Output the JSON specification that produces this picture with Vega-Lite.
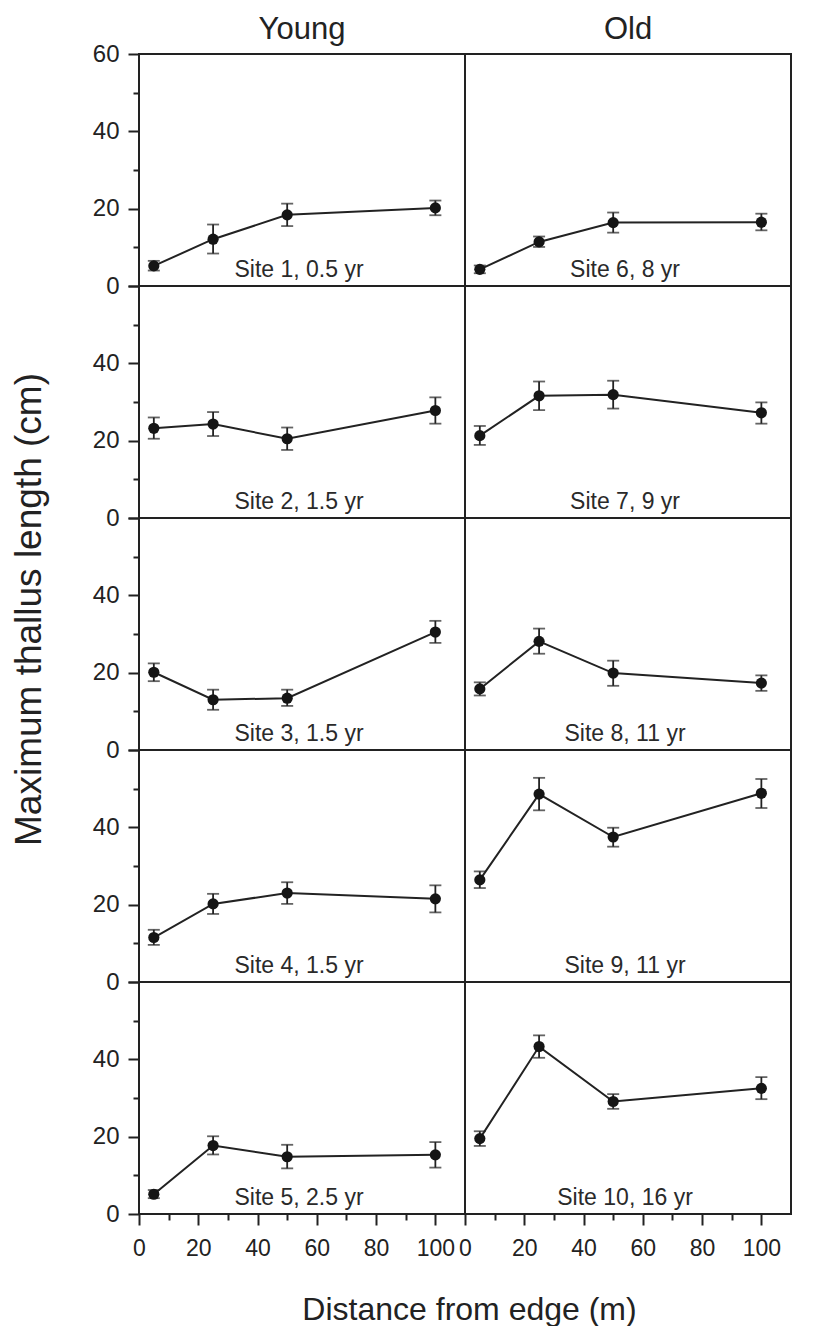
{
  "$schema": "https://vega.github.io/schema/vega-lite/v6.json",
  "background": "white",
  "padding": {"left": 9, "top": 13, "right": 30, "bottom": 0},
  "data": {
    "values": [
      {"id": 1, "grp": "Young", "site": "Site 1, 0.5 yr", "d": 5, "y": 5.2, "lo": 4.0, "hi": 6.5},
      {"id": 1, "grp": "Young", "site": "Site 1, 0.5 yr", "d": 25, "y": 12.1, "lo": 8.4, "hi": 15.9},
      {"id": 1, "grp": "Young", "site": "Site 1, 0.5 yr", "d": 50, "y": 18.4, "lo": 15.5, "hi": 21.3},
      {"id": 1, "grp": "Young", "site": "Site 1, 0.5 yr", "d": 100, "y": 20.2, "lo": 18.3, "hi": 22.1},
      {"id": 6, "grp": "Old", "site": "Site 6, 8 yr", "d": 5, "y": 4.3, "lo": 3.3, "hi": 5.3},
      {"id": 6, "grp": "Old", "site": "Site 6, 8 yr", "d": 25, "y": 11.4, "lo": 10.1, "hi": 12.8},
      {"id": 6, "grp": "Old", "site": "Site 6, 8 yr", "d": 50, "y": 16.4, "lo": 13.8, "hi": 19.0},
      {"id": 6, "grp": "Old", "site": "Site 6, 8 yr", "d": 100, "y": 16.5, "lo": 14.4, "hi": 18.7},
      {"id": 2, "grp": "Young", "site": "Site 2, 1.5 yr", "d": 5, "y": 23.2, "lo": 20.5, "hi": 26.0},
      {"id": 2, "grp": "Young", "site": "Site 2, 1.5 yr", "d": 25, "y": 24.3, "lo": 21.2, "hi": 27.4},
      {"id": 2, "grp": "Young", "site": "Site 2, 1.5 yr", "d": 50, "y": 20.5, "lo": 17.6, "hi": 23.4},
      {"id": 2, "grp": "Young", "site": "Site 2, 1.5 yr", "d": 100, "y": 27.8, "lo": 24.4, "hi": 31.2},
      {"id": 7, "grp": "Old", "site": "Site 7, 9 yr", "d": 5, "y": 21.3, "lo": 18.9, "hi": 23.8},
      {"id": 7, "grp": "Old", "site": "Site 7, 9 yr", "d": 25, "y": 31.6, "lo": 27.9, "hi": 35.3},
      {"id": 7, "grp": "Old", "site": "Site 7, 9 yr", "d": 50, "y": 31.9, "lo": 28.3, "hi": 35.5},
      {"id": 7, "grp": "Old", "site": "Site 7, 9 yr", "d": 100, "y": 27.2, "lo": 24.4, "hi": 29.9},
      {"id": 3, "grp": "Young", "site": "Site 3, 1.5 yr", "d": 5, "y": 20.1, "lo": 17.8, "hi": 22.4},
      {"id": 3, "grp": "Young", "site": "Site 3, 1.5 yr", "d": 25, "y": 13.0, "lo": 10.4, "hi": 15.6},
      {"id": 3, "grp": "Young", "site": "Site 3, 1.5 yr", "d": 50, "y": 13.4, "lo": 11.4, "hi": 15.6},
      {"id": 3, "grp": "Young", "site": "Site 3, 1.5 yr", "d": 100, "y": 30.5, "lo": 27.7, "hi": 33.4},
      {"id": 8, "grp": "Old", "site": "Site 8, 11 yr", "d": 5, "y": 15.8, "lo": 14.1, "hi": 17.5},
      {"id": 8, "grp": "Old", "site": "Site 8, 11 yr", "d": 25, "y": 28.1, "lo": 24.9, "hi": 31.4},
      {"id": 8, "grp": "Old", "site": "Site 8, 11 yr", "d": 50, "y": 19.9, "lo": 16.6, "hi": 23.1},
      {"id": 8, "grp": "Old", "site": "Site 8, 11 yr", "d": 100, "y": 17.3, "lo": 15.3, "hi": 19.3},
      {"id": 4, "grp": "Young", "site": "Site 4, 1.5 yr", "d": 5, "y": 11.5, "lo": 9.6, "hi": 13.5},
      {"id": 4, "grp": "Young", "site": "Site 4, 1.5 yr", "d": 25, "y": 20.2, "lo": 17.6, "hi": 22.8},
      {"id": 4, "grp": "Young", "site": "Site 4, 1.5 yr", "d": 50, "y": 23.0, "lo": 20.2, "hi": 25.8},
      {"id": 4, "grp": "Young", "site": "Site 4, 1.5 yr", "d": 100, "y": 21.5, "lo": 18.0, "hi": 25.0},
      {"id": 9, "grp": "Old", "site": "Site 9, 11 yr", "d": 5, "y": 26.4, "lo": 24.3, "hi": 28.6},
      {"id": 9, "grp": "Old", "site": "Site 9, 11 yr", "d": 25, "y": 48.6, "lo": 44.4, "hi": 52.8},
      {"id": 9, "grp": "Old", "site": "Site 9, 11 yr", "d": 50, "y": 37.5, "lo": 35.0, "hi": 39.9},
      {"id": 9, "grp": "Old", "site": "Site 9, 11 yr", "d": 100, "y": 48.8, "lo": 45.0, "hi": 52.5},
      {"id": 5, "grp": "Young", "site": "Site 5, 2.5 yr", "d": 5, "y": 5.1, "lo": 4.1, "hi": 6.2},
      {"id": 5, "grp": "Young", "site": "Site 5, 2.5 yr", "d": 25, "y": 17.7, "lo": 15.4, "hi": 20.1},
      {"id": 5, "grp": "Young", "site": "Site 5, 2.5 yr", "d": 50, "y": 14.8, "lo": 11.8, "hi": 17.9},
      {"id": 5, "grp": "Young", "site": "Site 5, 2.5 yr", "d": 100, "y": 15.3, "lo": 12.0, "hi": 18.6},
      {"id": 10, "grp": "Old", "site": "Site 10, 16 yr", "d": 5, "y": 19.5, "lo": 17.6, "hi": 21.4},
      {"id": 10, "grp": "Old", "site": "Site 10, 16 yr", "d": 25, "y": 43.3, "lo": 40.4, "hi": 46.2},
      {"id": 10, "grp": "Old", "site": "Site 10, 16 yr", "d": 50, "y": 29.1, "lo": 27.2, "hi": 31.0},
      {"id": 10, "grp": "Old", "site": "Site 10, 16 yr", "d": 100, "y": 32.5, "lo": 29.7, "hi": 35.4}
    ]
  },
  "columns": 2,
  "spacing": 0,
  "bounds": "flush",
  "concat": [
    {
      "transform": [{"filter": "datum.id == 1"}],
      "width": 326, "height": 232,
      "title": {"text": "Young", "offset": -4},
      "encoding": {
        "x": {"field": "d", "type": "quantitative", "scale": {"domain": [0, 110], "nice": false}, "axis": {"labels": false, "ticks": false, "domain": false, "title": null}},
        "y": {"field": "y", "type": "quantitative", "scale": {"domain": [0, 60], "nice": false},
          "axis": {"values": [0, 10, 20, 30, 40, 50, 60], "labelExpr": "datum.value % 20 == 0 ? datum.label : ''", "tickSize": {"condition": {"test": "datum.value % 20 == 0", "value": 11}, "value": 6}, "labelPadding": 9, "title": null}}
      },
      "layer": [
        {"mark": {"type": "line", "color": "#222", "strokeWidth": 2}},
        {"mark": {"type": "errorbar", "ticks": true, "size": 12, "thickness": 1.8, "color": "#222"}, "encoding": {"y": {"field": "lo", "type": "quantitative"}, "y2": {"field": "hi"}}},
        {"mark": {"type": "point", "filled": true, "size": 125, "opacity": 1, "color": "#151515"}},
        {"transform": [{"filter": "datum.d == 5"}], "mark": {"type": "text", "fontSize": 23, "baseline": "alphabetic", "color": "#2a2a2a"}, "encoding": {"x": {"datum": 54, "type": "quantitative"}, "y": {"datum": 2.4, "type": "quantitative"}, "text": {"field": "site"}}}
      ]
    },
    {
      "transform": [{"filter": "datum.id == 6"}],
      "width": 326, "height": 232,
      "title": {"text": "Old", "offset": 8},
      "encoding": {
        "x": {"field": "d", "type": "quantitative", "scale": {"domain": [0, 110], "nice": false}, "axis": {"labels": false, "ticks": false, "domain": false, "title": null}},
        "y": {"field": "y", "type": "quantitative", "scale": {"domain": [0, 60], "nice": false}, "axis": {"labels": false, "ticks": false, "domain": false, "title": null}}
      },
      "layer": [
        {"mark": {"type": "line", "color": "#222", "strokeWidth": 2}},
        {"mark": {"type": "errorbar", "ticks": true, "size": 12, "thickness": 1.8, "color": "#222"}, "encoding": {"y": {"field": "lo", "type": "quantitative"}, "y2": {"field": "hi"}}},
        {"mark": {"type": "point", "filled": true, "size": 125, "opacity": 1, "color": "#151515"}},
        {"transform": [{"filter": "datum.d == 5"}], "mark": {"type": "text", "fontSize": 23, "baseline": "alphabetic", "color": "#2a2a2a"}, "encoding": {"x": {"datum": 54, "type": "quantitative"}, "y": {"datum": 2.4, "type": "quantitative"}, "text": {"field": "site"}}}
      ]
    },
    {
      "transform": [{"filter": "datum.id == 2"}],
      "width": 326, "height": 232,
      "encoding": {
        "x": {"field": "d", "type": "quantitative", "scale": {"domain": [0, 110], "nice": false}, "axis": {"labels": false, "ticks": false, "domain": false, "title": null}},
        "y": {"field": "y", "type": "quantitative", "scale": {"domain": [0, 60], "nice": false},
          "axis": {"values": [0, 10, 20, 30, 40, 50, 60], "labelExpr": "datum.value % 20 == 0 && datum.value < 60 ? datum.label : ''", "tickSize": {"condition": {"test": "datum.value % 20 == 0", "value": 11}, "value": 6}, "labelPadding": 9, "title": null}}
      },
      "layer": [
        {"mark": {"type": "line", "color": "#222", "strokeWidth": 2}},
        {"mark": {"type": "errorbar", "ticks": true, "size": 12, "thickness": 1.8, "color": "#222"}, "encoding": {"y": {"field": "lo", "type": "quantitative"}, "y2": {"field": "hi"}}},
        {"mark": {"type": "point", "filled": true, "size": 125, "opacity": 1, "color": "#151515"}},
        {"transform": [{"filter": "datum.d == 5"}], "mark": {"type": "text", "fontSize": 23, "baseline": "alphabetic", "color": "#2a2a2a"}, "encoding": {"x": {"datum": 54, "type": "quantitative"}, "y": {"datum": 2.4, "type": "quantitative"}, "text": {"field": "site"}}}
      ]
    },
    {
      "transform": [{"filter": "datum.id == 7"}],
      "width": 326, "height": 232,
      "encoding": {
        "x": {"field": "d", "type": "quantitative", "scale": {"domain": [0, 110], "nice": false}, "axis": {"labels": false, "ticks": false, "domain": false, "title": null}},
        "y": {"field": "y", "type": "quantitative", "scale": {"domain": [0, 60], "nice": false}, "axis": {"labels": false, "ticks": false, "domain": false, "title": null}}
      },
      "layer": [
        {"mark": {"type": "line", "color": "#222", "strokeWidth": 2}},
        {"mark": {"type": "errorbar", "ticks": true, "size": 12, "thickness": 1.8, "color": "#222"}, "encoding": {"y": {"field": "lo", "type": "quantitative"}, "y2": {"field": "hi"}}},
        {"mark": {"type": "point", "filled": true, "size": 125, "opacity": 1, "color": "#151515"}},
        {"transform": [{"filter": "datum.d == 5"}], "mark": {"type": "text", "fontSize": 23, "baseline": "alphabetic", "color": "#2a2a2a"}, "encoding": {"x": {"datum": 54, "type": "quantitative"}, "y": {"datum": 2.4, "type": "quantitative"}, "text": {"field": "site"}}}
      ]
    },
    {
      "transform": [{"filter": "datum.id == 3"}],
      "width": 326, "height": 232,
      "encoding": {
        "x": {"field": "d", "type": "quantitative", "scale": {"domain": [0, 110], "nice": false}, "axis": {"labels": false, "ticks": false, "domain": false, "title": null}},
        "y": {"field": "y", "type": "quantitative", "scale": {"domain": [0, 60], "nice": false},
          "axis": {"values": [0, 10, 20, 30, 40, 50, 60], "labelExpr": "datum.value % 20 == 0 && datum.value < 60 ? datum.label : ''", "tickSize": {"condition": {"test": "datum.value % 20 == 0", "value": 11}, "value": 6}, "labelPadding": 9, "title": "Maximum thallus length (cm)", "titleFontSize": 37, "titlePadding": 44, "titleY": 91}}
      },
      "layer": [
        {"mark": {"type": "line", "color": "#222", "strokeWidth": 2}},
        {"mark": {"type": "errorbar", "ticks": true, "size": 12, "thickness": 1.8, "color": "#222"}, "encoding": {"y": {"field": "lo", "type": "quantitative"}, "y2": {"field": "hi"}}},
        {"mark": {"type": "point", "filled": true, "size": 125, "opacity": 1, "color": "#151515"}},
        {"transform": [{"filter": "datum.d == 5"}], "mark": {"type": "text", "fontSize": 23, "baseline": "alphabetic", "color": "#2a2a2a"}, "encoding": {"x": {"datum": 54, "type": "quantitative"}, "y": {"datum": 2.4, "type": "quantitative"}, "text": {"field": "site"}}}
      ]
    },
    {
      "transform": [{"filter": "datum.id == 8"}],
      "width": 326, "height": 232,
      "encoding": {
        "x": {"field": "d", "type": "quantitative", "scale": {"domain": [0, 110], "nice": false}, "axis": {"labels": false, "ticks": false, "domain": false, "title": null}},
        "y": {"field": "y", "type": "quantitative", "scale": {"domain": [0, 60], "nice": false}, "axis": {"labels": false, "ticks": false, "domain": false, "title": null}}
      },
      "layer": [
        {"mark": {"type": "line", "color": "#222", "strokeWidth": 2}},
        {"mark": {"type": "errorbar", "ticks": true, "size": 12, "thickness": 1.8, "color": "#222"}, "encoding": {"y": {"field": "lo", "type": "quantitative"}, "y2": {"field": "hi"}}},
        {"mark": {"type": "point", "filled": true, "size": 125, "opacity": 1, "color": "#151515"}},
        {"transform": [{"filter": "datum.d == 5"}], "mark": {"type": "text", "fontSize": 23, "baseline": "alphabetic", "color": "#2a2a2a"}, "encoding": {"x": {"datum": 54, "type": "quantitative"}, "y": {"datum": 2.4, "type": "quantitative"}, "text": {"field": "site"}}}
      ]
    },
    {
      "transform": [{"filter": "datum.id == 4"}],
      "width": 326, "height": 232,
      "encoding": {
        "x": {"field": "d", "type": "quantitative", "scale": {"domain": [0, 110], "nice": false}, "axis": {"labels": false, "ticks": false, "domain": false, "title": null}},
        "y": {"field": "y", "type": "quantitative", "scale": {"domain": [0, 60], "nice": false},
          "axis": {"values": [0, 10, 20, 30, 40, 50, 60], "labelExpr": "datum.value % 20 == 0 && datum.value < 60 ? datum.label : ''", "tickSize": {"condition": {"test": "datum.value % 20 == 0", "value": 11}, "value": 6}, "labelPadding": 9, "title": null}}
      },
      "layer": [
        {"mark": {"type": "line", "color": "#222", "strokeWidth": 2}},
        {"mark": {"type": "errorbar", "ticks": true, "size": 12, "thickness": 1.8, "color": "#222"}, "encoding": {"y": {"field": "lo", "type": "quantitative"}, "y2": {"field": "hi"}}},
        {"mark": {"type": "point", "filled": true, "size": 125, "opacity": 1, "color": "#151515"}},
        {"transform": [{"filter": "datum.d == 5"}], "mark": {"type": "text", "fontSize": 23, "baseline": "alphabetic", "color": "#2a2a2a"}, "encoding": {"x": {"datum": 54, "type": "quantitative"}, "y": {"datum": 2.4, "type": "quantitative"}, "text": {"field": "site"}}}
      ]
    },
    {
      "transform": [{"filter": "datum.id == 9"}],
      "width": 326, "height": 232,
      "encoding": {
        "x": {"field": "d", "type": "quantitative", "scale": {"domain": [0, 110], "nice": false}, "axis": {"labels": false, "ticks": false, "domain": false, "title": null}},
        "y": {"field": "y", "type": "quantitative", "scale": {"domain": [0, 60], "nice": false}, "axis": {"labels": false, "ticks": false, "domain": false, "title": null}}
      },
      "layer": [
        {"mark": {"type": "line", "color": "#222", "strokeWidth": 2}},
        {"mark": {"type": "errorbar", "ticks": true, "size": 12, "thickness": 1.8, "color": "#222"}, "encoding": {"y": {"field": "lo", "type": "quantitative"}, "y2": {"field": "hi"}}},
        {"mark": {"type": "point", "filled": true, "size": 125, "opacity": 1, "color": "#151515"}},
        {"transform": [{"filter": "datum.d == 5"}], "mark": {"type": "text", "fontSize": 23, "baseline": "alphabetic", "color": "#2a2a2a"}, "encoding": {"x": {"datum": 54, "type": "quantitative"}, "y": {"datum": 2.4, "type": "quantitative"}, "text": {"field": "site"}}}
      ]
    },
    {
      "transform": [{"filter": "datum.id == 5"}],
      "width": 326, "height": 232,
      "encoding": {
        "x": {"field": "d", "type": "quantitative", "scale": {"domain": [0, 110], "nice": false},
          "axis": {"values": [0, 10, 20, 30, 40, 50, 60, 70, 80, 90, 100], "labelExpr": "datum.value % 20 == 0 ? datum.label : ''", "tickSize": {"condition": {"test": "datum.value % 20 == 0", "value": 11}, "value": 6}, "labelPadding": 12, "labelFontSize": 23, "title": "Distance from edge (m)", "titleFontSize": 32, "titlePadding": 34, "titleX": 330, "titleAlign": "center"}},
        "y": {"field": "y", "type": "quantitative", "scale": {"domain": [0, 60], "nice": false},
          "axis": {"values": [0, 10, 20, 30, 40, 50, 60], "labelExpr": "datum.value % 20 == 0 && datum.value < 60 ? datum.label : ''", "tickSize": {"condition": {"test": "datum.value % 20 == 0", "value": 11}, "value": 6}, "labelPadding": 9, "title": null}}
      },
      "layer": [
        {"mark": {"type": "line", "color": "#222", "strokeWidth": 2}},
        {"mark": {"type": "errorbar", "ticks": true, "size": 12, "thickness": 1.8, "color": "#222"}, "encoding": {"y": {"field": "lo", "type": "quantitative"}, "y2": {"field": "hi"}}},
        {"mark": {"type": "point", "filled": true, "size": 125, "opacity": 1, "color": "#151515"}},
        {"transform": [{"filter": "datum.d == 5"}], "mark": {"type": "text", "fontSize": 23, "baseline": "alphabetic", "color": "#2a2a2a"}, "encoding": {"x": {"datum": 54, "type": "quantitative"}, "y": {"datum": 2.4, "type": "quantitative"}, "text": {"field": "site"}}}
      ]
    },
    {
      "transform": [{"filter": "datum.id == 10"}],
      "width": 326, "height": 232,
      "encoding": {
        "x": {"field": "d", "type": "quantitative", "scale": {"domain": [0, 110], "nice": false},
          "axis": {"values": [0, 10, 20, 30, 40, 50, 60, 70, 80, 90, 100], "labelExpr": "datum.value % 20 == 0 ? datum.label : ''", "tickSize": {"condition": {"test": "datum.value % 20 == 0", "value": 11}, "value": 6}, "labelPadding": 12, "labelFontSize": 23, "title": null}},
        "y": {"field": "y", "type": "quantitative", "scale": {"domain": [0, 60], "nice": false}, "axis": {"labels": false, "ticks": false, "domain": false, "title": null}}
      },
      "layer": [
        {"mark": {"type": "line", "color": "#222", "strokeWidth": 2}},
        {"mark": {"type": "errorbar", "ticks": true, "size": 12, "thickness": 1.8, "color": "#222"}, "encoding": {"y": {"field": "lo", "type": "quantitative"}, "y2": {"field": "hi"}}},
        {"mark": {"type": "point", "filled": true, "size": 125, "opacity": 1, "color": "#151515"}},
        {"transform": [{"filter": "datum.d == 5"}], "mark": {"type": "text", "fontSize": 23, "baseline": "alphabetic", "color": "#2a2a2a"}, "encoding": {"x": {"datum": 54, "type": "quantitative"}, "y": {"datum": 2.4, "type": "quantitative"}, "text": {"field": "site"}}}
      ]
    }
  ],
  "config": {
    "font": "Liberation Sans",
    "view": {"stroke": "#222", "strokeWidth": 2},
    "axis": {"grid": false, "domain": false, "labelFont": "Liberation Sans", "labelFontSize": 24, "labelColor": "#222", "tickColor": "#222", "tickWidth": 2, "labelFlush": false, "labelOverlap": false, "titleFont": "Liberation Sans", "titleFontWeight": "normal", "titleColor": "#222"},
    "title": {"font": "Liberation Sans", "fontSize": 31, "fontWeight": "normal", "color": "#222", "baseline": "alphabetic", "anchor": "middle"}
  }
}
